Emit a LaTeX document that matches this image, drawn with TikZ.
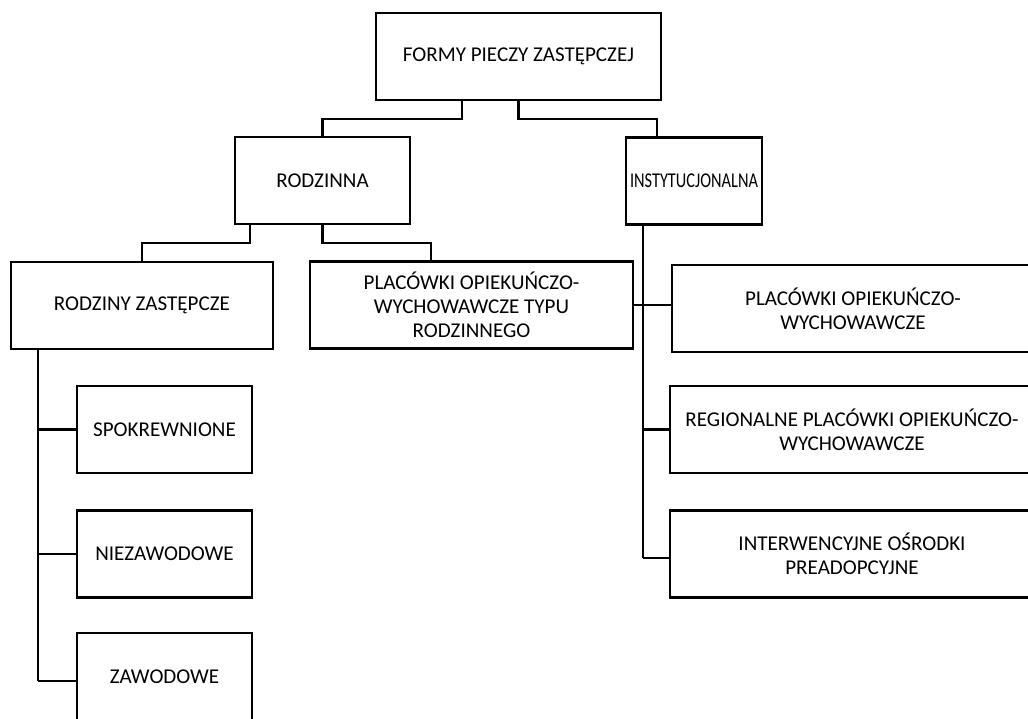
\documentclass[tikz,border=0pt]{standalone}
\usepackage{fontspec}
\setmainfont{Carlito}
\begin{document}
\begin{tikzpicture}[x=0.75pt,y=-0.75pt,
  box/.style={draw=black,line width=1.6pt,rectangle,inner sep=0pt,align=center,
    minimum height=65.25pt,font=\fontsize{15.8}{18}\selectfont},
  link/.style={draw=black,line width=1.6pt}]
\useasboundingbox (0,0) rectangle (1028,718);
\clip (0,0) rectangle (1028,718);
% nodes
\node[box,minimum width=213.75pt] (top) at (518.5,56.5) {FORMY PIECZY ZASTĘPCZEJ};
\node[box,minimum width=131.25pt] (rodz) at (322.5,180.5) {RODZINNA};
\node[box,minimum width=102pt] (inst) at (694,181) {\resizebox{96pt}{\height}{INSTYTUCJONALNA}};
\node[box,minimum width=196.5pt] (rz) at (142,305.5) {RODZINY ZASTĘPCZE};
\node[box,minimum width=242.25pt] (pr) at (471.5,305) {PLACÓWKI OPIEKUŃCZO-\\WYCHOWAWCZE TYPU\\RODZINNEGO};
\node[box,minimum width=131.25pt] (spok) at (164.5,429.5) {SPOKREWNIONE};
\node[box,minimum width=131.25pt] (niez) at (164.5,554) {NIEZAWODOWE};
\node[box,minimum width=131.25pt] (zaw) at (164.5,676.5) {ZAWODOWE};
\node[box,minimum width=271.5pt] (pow) at (853,308.5) {PLACÓWKI OPIEKUŃCZO-\\WYCHOWAWCZE};
\node[box,minimum width=273pt] (reg) at (852,429.5) {REGIONALNE PLACÓWKI OPIEKUŃCZO-\\WYCHOWAWCZE};
\node[box,minimum width=273pt] (int) at (852,554) {INTERWENCYJNE OŚRODKI\\PREADOPCYJNE};
% helper coordinates
\coordinate (t1) at (462,119);
\coordinate (t2) at (657,119);
\coordinate (r1) at (250,243);
\coordinate (r2) at (431,243);
\coordinate (lv) at (38,681);
\coordinate (iv) at (643,558);
% connectors
\draw[link] (t1 |- top.south) -- (t1) -| (rodz.north);
\draw[link] (top.south) |- (t2) -- (t2 |- inst.north);
\draw[link] (r1 |- rodz.south) -- (r1) -| (rz.north);
\draw[link] (rodz.south) |- (r2) -- (r2 |- pr.north);
\draw[link] (lv |- rz.south) -- (lv);
\draw[link] (lv |- spok.west) -- (spok.west);
\draw[link] (lv |- niez.west) -- (niez.west);
\draw[link] (lv) -- (lv -| zaw.west);
\draw[link] (iv |- inst.south) -- (iv);
\draw[link] (pr.east) -- (pr.east -| pow.west);
\draw[link] (iv |- reg.west) -- (reg.west);
\draw[link] (iv) -- (iv -| int.west);
\end{tikzpicture}
\end{document}
